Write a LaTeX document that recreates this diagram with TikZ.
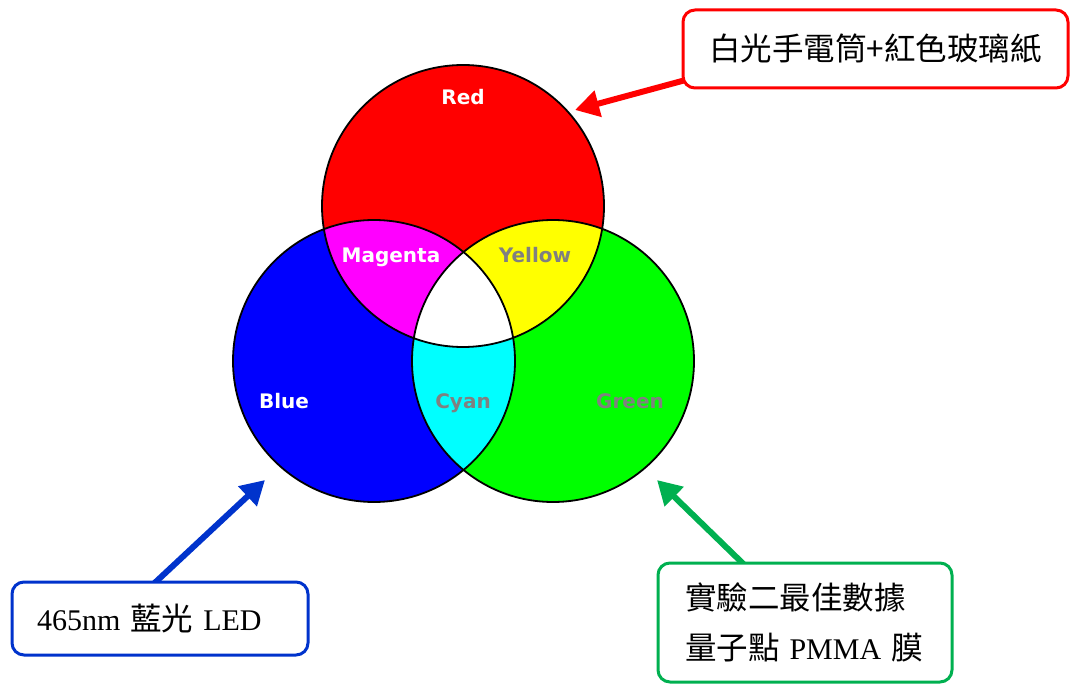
\documentclass[tikz,border=0pt]{standalone}
\usepackage{fontspec}
\setmainfont{Liberation Serif}
\newfontfamily\cjk{Noto Sans CJK TC}[Scale=1.05]
\newfontfamily\lbl{DejaVu Sans}
\usetikzlibrary{arrows.meta,calc,backgrounds}
\definecolor{arrred}{RGB}{255,0,0}
\definecolor{arrblue}{RGB}{0,51,204}
\definecolor{arrgreen}{RGB}{0,176,80}
\definecolor{lblgray}{RGB}{128,128,128}
\definecolor{cR}{RGB}{255,0,0}
\definecolor{cG}{RGB}{0,255,0}
\definecolor{cB}{RGB}{0,0,255}
\definecolor{cC}{RGB}{0,255,255}
\definecolor{cM}{RGB}{255,0,255}
\definecolor{cY}{RGB}{255,255,0}
\begin{document}
\begin{tikzpicture}[x=1pt,y=-1pt,
  callout/.style={draw, line width=3pt, rounded corners=12pt, fill=white,
    font=\fontsize{30}{36}\selectfont},
  pointer/.style={line width=6pt, -{Triangle[length=24pt,width=26pt]}},
  clabel/.style={font=\lbl\bfseries\fontsize{20}{24}\selectfont, anchor=base, inner sep=0pt},
]
\useasboundingbox (0,0) rectangle (1070,684);
\coordinate (cr) at (463,206);
\coordinate (cb) at (374,361);
\coordinate (cg) at (553,361);
\def\rad{141pt}
% base fills
\fill[cR] (cr) circle[radius=\rad];
\fill[cB] (cb) circle[radius=\rad];
\fill[cG] (cg) circle[radius=\rad];
% pairwise overlaps
\begin{scope}
  \clip (cr) circle[radius=\rad];
  \fill[cM] (cb) circle[radius=\rad];
  \fill[cY] (cg) circle[radius=\rad];
\end{scope}
\begin{scope}
  \clip (cb) circle[radius=\rad];
  \fill[cC] (cg) circle[radius=\rad];
\end{scope}
\begin{scope}
  \clip (cr) circle[radius=\rad];
  \clip (cb) circle[radius=\rad];
  \fill[white] (cg) circle[radius=\rad];
\end{scope}
% outlines
\draw[line width=1.8pt] (cr) circle[radius=\rad];
\draw[line width=1.8pt] (cb) circle[radius=\rad];
\draw[line width=1.8pt] (cg) circle[radius=\rad];
% labels
\node[clabel, text=white] (lred) at (463,105) {Red};
\node[clabel, text=white] (lmag) at (391,263) {Magenta};
\node[clabel, text=lblgray] (lyel) at (535,263) {Yellow};
\node[clabel, text=white] (lblu) at (284,408) {Blue};
\node[clabel, text=lblgray] (lcya) at (463,408) {Cyan};
\node[clabel, text=lblgray] (lgre) at (630,408) {Green};
% callout boxes
\node[callout, draw=arrred, minimum width=385pt, minimum height=78pt, inner sep=0pt]
  (redbox) at (875.5,49) {\cjk 白光手電筒+紅色玻璃紙};
\node[callout, draw=arrblue, minimum height=73pt, inner xsep=25pt, inner ysep=0pt,
  text width=246pt, align=left]
  (bluebox) at (160,618.5) {465nm {\cjk 藍光} LED};
\node[callout, draw=arrgreen, minimum height=119pt, inner xsep=27pt, inner ysep=0pt,
  text width=240pt, align=left, font=\fontsize{30}{50}\selectfont]
  (greenbox) at (805,622.5) {{\cjk 實驗二最佳數據}\\{\cjk 量子點} PMMA {\cjk 膜}};
% arrow targets
\coordinate (rtip) at (575,110);
\coordinate (btip) at (265,480);
\coordinate (gtip) at (657,480);
\begin{scope}[on background layer]
  \draw[pointer, arrred] ($(redbox.south west)+(6,-10)$) -- (rtip);
  \draw[pointer, arrblue] ([xshift=-7pt,yshift=-4pt]bluebox.north) -- (btip);
  \draw[pointer, arrgreen] ([xshift=-60pt,yshift=-4pt]greenbox.north) -- (gtip);
\end{scope}
\end{tikzpicture}
\end{document}
